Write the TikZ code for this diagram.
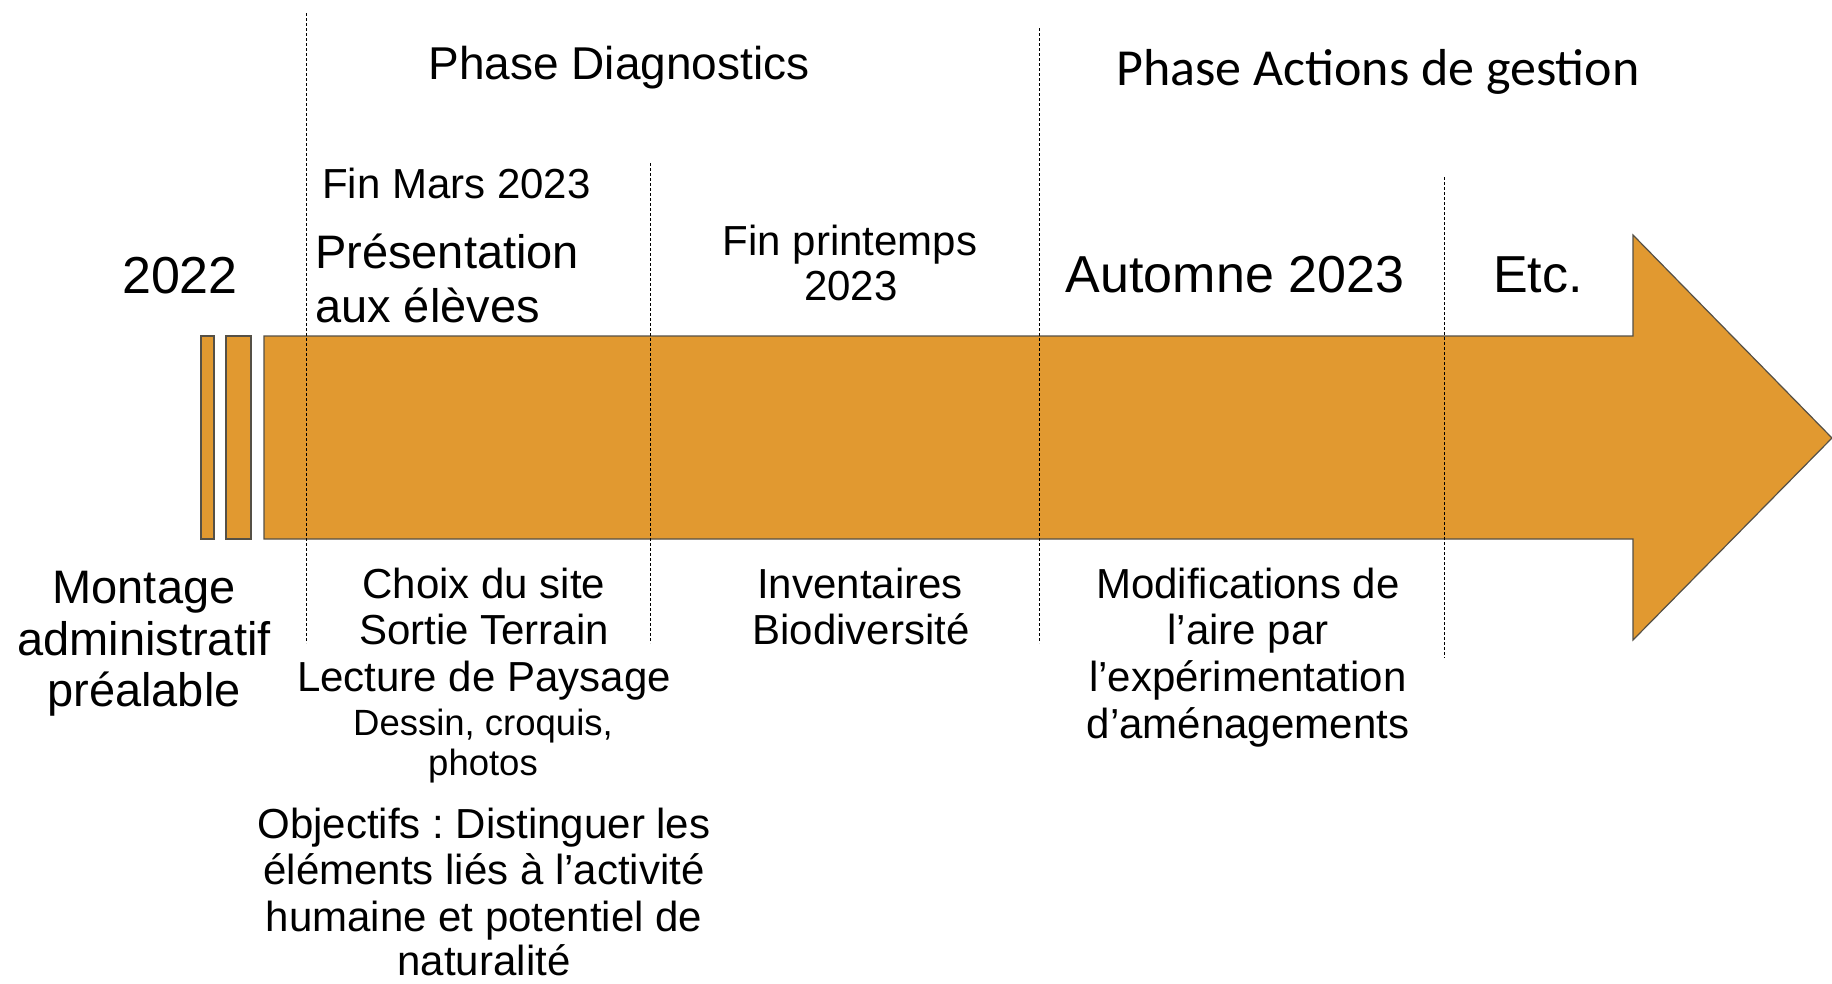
\documentclass[tikz,border=0pt]{standalone}
\usepackage{fontspec}
\setmainfont{Liberation Sans}
\newfontfamily\calib{Carlito}
\frenchspacing
\newcommand{\fsz}[1]{\fontsize{#1}{#1}\selectfont}
\definecolor{barfill}{RGB}{225,153,48}
\definecolor{baredge}{RGB}{85,80,70}
\tikzset{
  lbl/.style={inner sep=0pt, anchor=base},
  lblw/.style={inner sep=0pt, anchor=base west},
  barpart/.style={fill=barfill, draw=baredge, line width=1.2pt, line join=miter},
  sep/.style={draw=black, line width=0.9pt, dash pattern=on 3pt off 2pt}
}
\begin{document}
\begin{tikzpicture}[x=1pt,y=-1pt]
\useasboundingbox (0,0) rectangle (1832,983);
% bars
\draw[barpart] (201,336) rectangle (214,539);
\draw[barpart] (226,336) rectangle (251,539);
\draw[barpart] (264,336) -- (1633,336) -- (1633,235) -- (1832,438) -- (1633,640) -- (1633,539) -- (264,539) -- cycle;
% separators
\coordinate (s1a) at (306,13);   \coordinate (s1b) at (306,643);
\coordinate (s2a) at (650,163);  \coordinate (s2b) at (650,643);
\coordinate (s3a) at (1039,28);  \coordinate (s3b) at (1039,643);
\coordinate (s4a) at (1444,177); \coordinate (s4b) at (1444,658);
\draw[sep] (s1a) -- (s1b);
\draw[sep] (s2a) -- (s2b);
\draw[sep] (s3a) -- (s3b);
\draw[sep] (s4a) -- (s4b);
% top texts
\node[lbl,font=\fsz{46}] (phdiag) at (619,79) {Phase Diagnostics};
\node[lbl,font=\calib\fsz{52}] (phact) at (1378,85) {Phase Actions de gestion};
\node[lbl,font=\fsz{52}] (y2022) at (180,293) {2022};
\node[lblw,font=\fsz{42}] (finmars) at (322,198) {Fin Mars 2023};
\node[lblw,font=\fsz{47}] (pres1) at (315,268) {Présentation};
\node[lblw,font=\fsz{47}] (pres2) at (315,322) {aux élèves};
\node[lbl,font=\fsz{42}] (finpr1) at (850,255) {Fin printemps};
\node[lbl,font=\fsz{42}] (finpr2) at (851,300) {2023};
\node[lbl,font=\fsz{52}] (aut) at (1235,292) {Automne 2023};
\node[lbl,font=\fsz{52}] (etc) at (1538,292) {Etc.};
% bottom texts
\node[lbl,font=\fsz{47}] (mont1) at (144,603) {Montage};
\node[lbl,font=\fsz{47}] (mont2) at (144,655) {administratif};
\node[lbl,font=\fsz{47}] (mont3) at (144,706) {préalable};
\node[lbl,font=\fsz{42}] (ch1) at (484,598) {Choix du site};
\node[lbl,font=\fsz{42}] (ch2) at (484,644) {Sortie Terrain};
\node[lbl,font=\fsz{42}] (ch3) at (484,691) {Lecture de Paysage};
\node[lbl,font=\fsz{36.5}] (ch4) at (483,735) {Dessin, croquis,};
\node[lbl,font=\fsz{36.5}] (ch5) at (483,775) {photos};
\node[lbl,font=\fsz{42}] (ob1) at (484,838) {Objectifs : Distinguer les};
\node[lbl,font=\fsz{42}] (ob2) at (484,884) {éléments liés à l’activité};
\node[lbl,font=\fsz{42}] (ob3) at (484,931) {humaine et potentiel de};
\node[lbl,font=\fsz{42}] (ob4) at (484,975) {naturalité};
\node[lbl,font=\fsz{42}] (inv1) at (860,598) {Inventaires};
\node[lbl,font=\fsz{42}] (inv2) at (861,644) {Biodiversité};
\node[lbl,font=\fsz{42}] (mod1) at (1248,598) {Modifications de};
\node[lbl,font=\fsz{42}] (mod2) at (1248,644) {l’aire par};
\node[lbl,font=\fsz{42}] (mod3) at (1248,691) {l’expérimentation};
\node[lbl,font=\fsz{42}] (mod4) at (1248,738) {d’aménagements};
\end{tikzpicture}
\end{document}
